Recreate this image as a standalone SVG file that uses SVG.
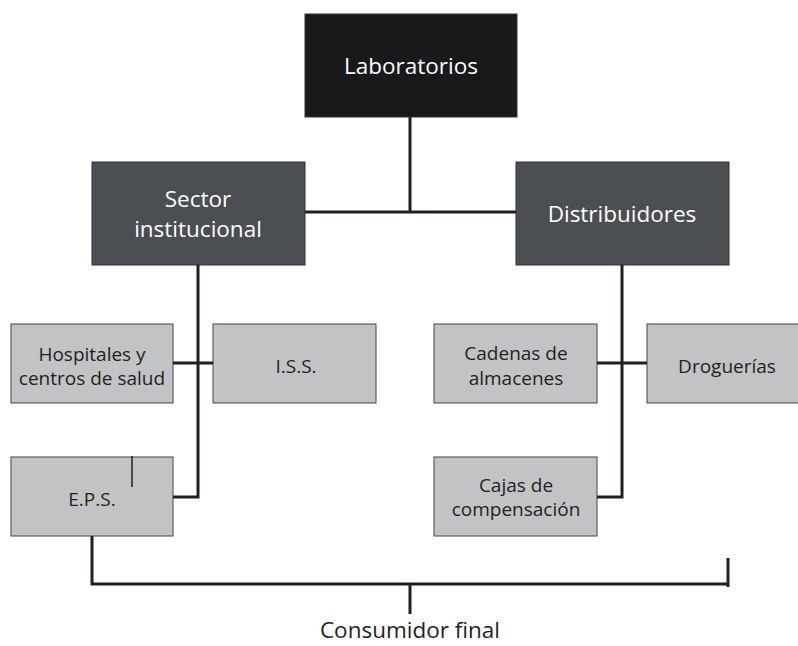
<svg xmlns="http://www.w3.org/2000/svg" width="798" height="646" viewBox="0 0 798 646">
<style>
.top{fill:#19191b;stroke:#333;stroke-width:1}
.mid{fill:#4b4e52;stroke:#333;stroke-width:1}
.low{fill:#c2c3c5;stroke:#444;stroke-width:1}
.tw{font-family:"Open Sans","Liberation Sans",sans-serif;fill:#ffffff;text-anchor:middle;font-size:22.5px}
.tb{font-family:"Open Sans","Liberation Sans",sans-serif;fill:#231f20;text-anchor:middle;font-size:19px}
.ln{fill:none;stroke:#231f20;stroke-width:3}
.thin{fill:none;stroke:#231f20;stroke-width:1.5}
</style>
<rect width="798" height="646" fill="#ffffff"/>
<g id="laboratorios"><rect class="top" x="305" y="14" width="212" height="103"/><text class="tw" x="411" y="74">Laboratorios</text></g>
<g id="sector"><rect class="mid" x="92" y="162" width="213" height="103"/><text class="tw" x="198" y="207">Sector</text><text class="tw" x="198" y="237">institucional</text></g>
<g id="distribuidores"><rect class="mid" x="516" y="162" width="213" height="103"/><text class="tw" x="622" y="222">Distribuidores</text></g>
<g id="hospitales"><rect class="low" x="11" y="324" width="162" height="79"/><text class="tb" x="92" y="361">Hospitales y</text><text class="tb" x="92" y="385">centros de salud</text></g>
<g id="iss"><rect class="low" x="213" y="324" width="163" height="79"/><text class="tb" x="296" y="373">I.S.S.</text></g>
<g id="eps"><rect class="low" x="11" y="457" width="162" height="79"/><text class="tb" x="92" y="506">E.P.S.</text></g>
<g id="cadenas"><rect class="low" x="434" y="324" width="163" height="79"/><text class="tb" x="516" y="360">Cadenas de</text><text class="tb" x="516" y="385">almacenes</text></g>
<g id="droguerias"><rect class="low" x="647" y="324" width="160" height="79"/><text class="tb" x="727" y="373">Droguerías</text></g>
<g id="cajas"><rect class="low" x="434" y="457" width="163" height="79"/><text class="tb" x="516" y="492">Cajas de</text><text class="tb" x="516" y="516">compensación</text></g>
<g id="consumidor"><text class="tb" x="410" y="638" style="font-size:22.5px">Consumidor final</text></g>
<g id="connectors">
<path class="ln" d="M410,117 V212 M305,212 H516"/>
<path class="ln" d="M198,265 V497 H173 M173,363 H213"/>
<path class="ln" d="M622,265 V497 H597 M597,363 H647"/>
<path class="ln" d="M92,536 V584 H728 M728,558 V587 M410,584 V614"/>
<path class="thin" d="M132,456 V487"/>
</g>
</svg>
